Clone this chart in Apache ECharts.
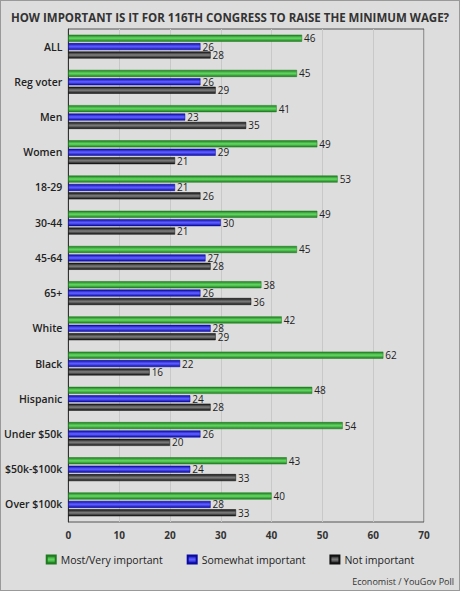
<!DOCTYPE html>
<html><head><meta charset="utf-8">
<script src="https://cdn.jsdelivr.net/npm/echarts@6/dist/echarts.min.js"></script>
<style>html,body{margin:0;padding:0;background:#dddddd}#vis{width:460px;height:591px;box-sizing:border-box;border:1px solid #999}</style>
</head><body><div id="vis"></div>
<script>
const categories = ['ALL','Reg voter','Men','Women','18-29','30-44','45-64','65+','White','Black','Hispanic','Under $50k','$50k-$100k','Over $100k'];
const mostVery = [46,45,41,49,53,49,45,38,42,62,48,54,43,40];
const somewhat = [26,26,23,29,21,30,27,26,28,22,24,26,24,28];
const notImp = [28,29,35,21,26,21,28,36,29,16,28,20,33,33];
const xTicks = [0,10,20,30,40,50,60,70];

function grad(dark, light) {
  return new echarts.graphic.LinearGradient(0,0,0,1,[
    {offset:0,color:dark},{offset:0.45,color:light},{offset:0.55,color:light},{offset:1,color:dark}]);
}
function series(name, data, dark, light) {
  return {
    name, type:'bar', data, barWidth:7, barGap:'20%',
    itemStyle:{color:grad(dark,light), borderColor:dark, borderWidth:0.5},
    label:{show:true, position:'right', distance:2, color:'#222', fontSize:10, fontFamily:'Open Sans'}
  };
}
const chart = echarts.init(document.getElementById('vis'), null, {renderer:'svg'});
chart.setOption({
  backgroundColor:'#dddddd',
  animation:false,
  title:{text:'HOW IMPORTANT IS IT FOR 116TH CONGRESS TO RAISE THE MINIMUM WAGE?', left:'center', top:5,
    textStyle:{fontSize:11.5, fontWeight:'bold', color:'#333', fontFamily:'Open Sans'}},
  grid:{left:60, right:35, top:28, bottom:68, show:true, borderColor:'#555', borderWidth:1, backgroundColor:'#dddddd'},
  xAxis:{type:'value', min:0, max:70, interval:10,
    axisLabel:{color:'#333', fontWeight:'bold', fontSize:10, fontFamily:'Open Sans', formatter:v=>xTicks.includes(v)?v:''},
    splitLine:{lineStyle:{color:'#c8c8c8'}}, axisLine:{show:false}},
  yAxis:{type:'category', data:categories, inverse:true,
    axisLabel:{color:'#222', fontSize:10.5, fontWeight:600, fontFamily:'Open Sans', margin:6},
    axisTick:{show:false}, axisLine:{lineStyle:{color:'#333'}}},
  legend:{bottom:20, icon:'rect', itemWidth:9, itemHeight:8, itemGap:24,
    textStyle:{fontSize:10.5, color:'#222', fontFamily:'Open Sans'}},
  graphic:[{type:'text', right:5, bottom:4, style:{text:'Economist / YouGov Poll', fontSize:9, fill:'#333', fontFamily:'Open Sans'}}],
  series:[
    series('Most/Very important', mostVery, '#1f7a1f', '#5ed25e'),
    series('Somewhat important', somewhat, '#0a0aa0', '#5a5aff'),
    series('Not important', notImp, '#111', '#777')
  ]
});
</script></body></html>
